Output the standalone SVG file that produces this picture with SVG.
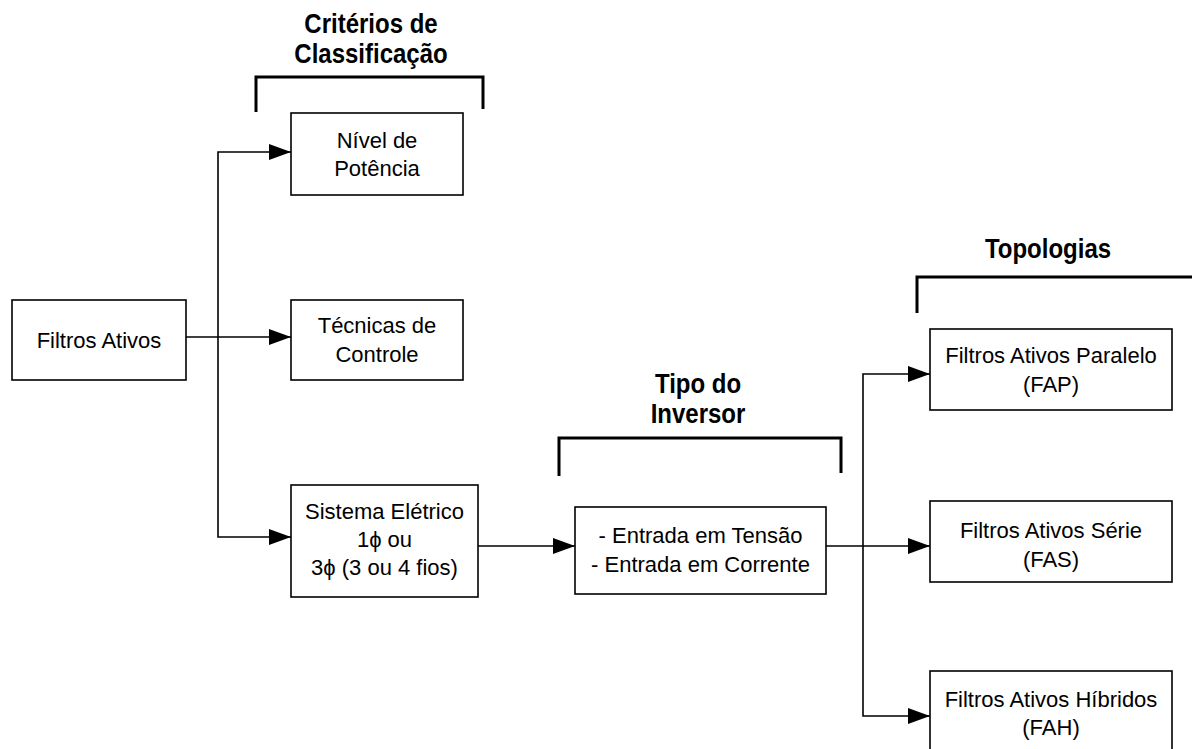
<svg xmlns="http://www.w3.org/2000/svg" width="1192" height="749" viewBox="0 0 1192 749">
  <style>
    .box { fill: #ffffff; stroke: #000000; stroke-width: 1.6; }
    .lbl { font-family: "Liberation Sans", Arial, sans-serif; font-size: 22px; fill: #000000; text-anchor: middle; }
    .ttl { font-family: "Liberation Sans", Arial, sans-serif; font-size: 24px; font-weight: bold; fill: #000000; text-anchor: middle; }
    .wire { fill: none; stroke: #000000; stroke-width: 1.6; }
    .brk { fill: none; stroke: #000000; stroke-width: 3; }
  </style>
  <defs>
    <marker id="arrow" markerUnits="userSpaceOnUse" markerWidth="22" markerHeight="16" refX="22" refY="8" orient="auto">
      <path d="M0,0 L22,8 L0,16 Z" fill="#000000"/>
    </marker>
  </defs>
  <rect width="1192" height="749" fill="#ffffff"/>

  <!-- group headings with brackets (headings are drawn slightly tall) -->
  <g id="heading-criterios">
    <text class="ttl" transform="translate(371,33) scale(1,1.15)">Critérios de</text>
    <text class="ttl" transform="translate(371,63) scale(1,1.15)">Classificação</text>
    <path class="brk" d="M256,112 V77 H483 V109"/>
  </g>
  <g id="heading-inversor">
    <text class="ttl" transform="translate(698,393) scale(1,1.15)">Tipo do</text>
    <text class="ttl" transform="translate(698,423) scale(1,1.15)">Inversor</text>
    <path class="brk" d="M559,476 V438 H841 V473"/>
  </g>
  <g id="heading-topologias">
    <text class="ttl" transform="translate(1048,258) scale(1,1.15)">Topologias</text>
    <path class="brk" d="M917,313 V277 H1192"/>
  </g>

  <!-- connectors -->
  <g id="connectors">
    <path class="wire" d="M186,337 H291" marker-end="url(#arrow)"/>
    <path class="wire" d="M218,337 V152 H291" marker-end="url(#arrow)"/>
    <path class="wire" d="M218,337 V537 H291" marker-end="url(#arrow)"/>
    <path class="wire" d="M478,546 H575" marker-end="url(#arrow)"/>
    <path class="wire" d="M826,546 H930" marker-end="url(#arrow)"/>
    <path class="wire" d="M863,546 V374 H930" marker-end="url(#arrow)"/>
    <path class="wire" d="M863,546 V716 H930" marker-end="url(#arrow)"/>
  </g>

  <!-- nodes -->
  <g id="filtros-ativos">
    <rect class="box" x="12" y="300" width="174" height="80"/>
    <text class="lbl" x="99" y="348">Filtros Ativos</text>
  </g>
  <g id="nivel-potencia">
    <rect class="box" x="291" y="113" width="172" height="82"/>
    <text class="lbl" x="377" y="148">Nível de</text>
    <text class="lbl" x="377" y="176">Potência</text>
  </g>
  <g id="tecnicas-controle">
    <rect class="box" x="291" y="300" width="172" height="80"/>
    <text class="lbl" x="377" y="333">Técnicas de</text>
    <text class="lbl" x="377" y="362">Controle</text>
  </g>
  <g id="sistema-eletrico">
    <rect class="box" x="291" y="485" width="187" height="112"/>
    <text class="lbl" x="384.5" y="519">Sistema Elétrico</text>
    <text class="lbl" x="384.5" y="547">1ϕ ou</text>
    <text class="lbl" x="384.5" y="575">3ϕ (3 ou 4 fios)</text>
  </g>
  <g id="tipo-entrada">
    <rect class="box" x="575" y="507" width="251" height="87"/>
    <text class="lbl" x="700.5" y="543">- Entrada em Tensão</text>
    <text class="lbl" x="700.5" y="572">- Entrada em Corrente</text>
  </g>
  <g id="fap">
    <rect class="box" x="930" y="329" width="242" height="81"/>
    <text class="lbl" x="1051" y="363">Filtros Ativos Paralelo</text>
    <text class="lbl" x="1051" y="392">(FAP)</text>
  </g>
  <g id="fas">
    <rect class="box" x="930" y="501" width="242" height="81"/>
    <text class="lbl" x="1051" y="538">Filtros Ativos Série</text>
    <text class="lbl" x="1051" y="567">(FAS)</text>
  </g>
  <g id="fah">
    <rect class="box" x="930" y="671" width="242" height="81"/>
    <text class="lbl" x="1051" y="707">Filtros Ativos Híbridos</text>
    <text class="lbl" x="1051" y="735">(FAH)</text>
  </g>
</svg>
